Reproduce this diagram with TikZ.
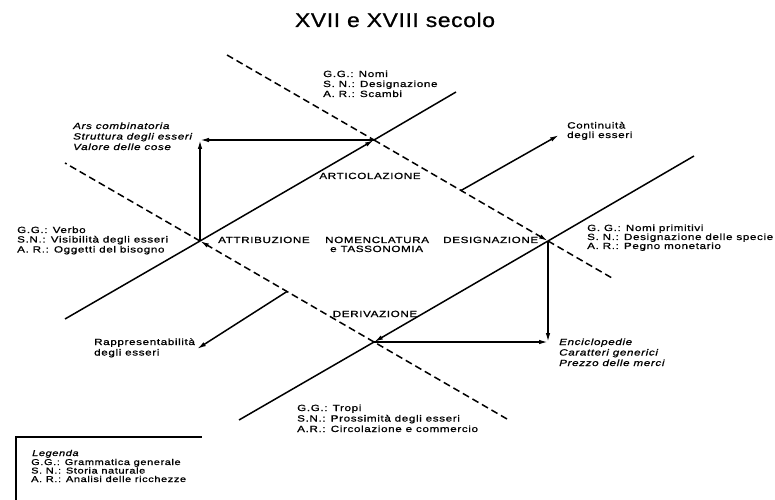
\documentclass[tikz,border=0pt]{standalone}
\usepackage{fontspec}
\setmainfont{Liberation Sans}[FakeStretch=1.3,LetterSpace=7,FakeBold=1]
\newfontfamily\titlefont{Liberation Sans}[FakeStretch=1.15,LetterSpace=3,FakeBold=0.8]
\usetikzlibrary{arrows.meta}
\begin{document}
\begin{tikzpicture}[x=1bp,y=-1bp,
  ln/.style={line width=1.5bp},
  dln/.style={line width=1.5bp,dash pattern=on 7bp off 4bp},
  tip/.style={-{Latex[length=9bp,width=4.5bp]}},
  lab/.style={anchor=base west,inner sep=0pt,font=\fontsize{9}{10}\selectfont},
  ilab/.style={lab,font=\fontsize{9}{10}\selectfont\itshape},
  clab/.style={anchor=base,inner sep=0pt,font=\fontsize{9}{10}\selectfont},
  leg/.style={anchor=base west,inner sep=0pt,font=\fontsize{8.5}{9}\selectfont}]
\useasboundingbox (0,0) rectangle (775,500);
% crossing points
\coordinate (T) at (200,241);
\coordinate (A) at (374,140);
\coordinate (D) at (548,241);
\coordinate (V) at (374,342);
% line ends
\coordinate (L1a) at (65,319);  \coordinate (L1b) at (456,92);
\coordinate (L2a) at (227,55);  \coordinate (L2b) at (612,278);
\coordinate (L3a) at (65,163);  \coordinate (L3b) at (507,419);
\coordinate (L4a) at (239,420); \coordinate (L4b) at (694,156);
% corners
\coordinate (CTL) at (200,140);
\coordinate (CBR) at (548,342);
% side arrows
\coordinate (M1) at (461,190.5); \coordinate (E1) at (559,135);
\coordinate (M2) at (287,291.5); \coordinate (E2) at (197,349);

% L1 solid
\draw[ln] (L1a) -- (T);
\draw[ln,tip] (T) -- (A);
\draw[ln] (A) -- (L1b);
% L2 dashed
\draw[dln] (L2a) -- (A);
\draw[dln,tip] (A) -- (D);
\draw[dln] (D) -- (L2b);
% L4 solid
\draw[ln] (L4b) -- (D);
\draw[ln,tip] (D) -- (V);
\draw[ln] (V) -- (L4a);
% L3 dashed
\draw[dln] (L3b) -- (V);
\draw[dln,tip] (V) -- (T);
\draw[dln] (T) -- (L3a);
% rectangle arrows
\draw[ln,tip] (T) -- (CTL);
\draw[ln,tip] (A) -- (CTL);
\draw[ln,tip] (D) -- (CBR);
\draw[ln,tip] (V) -- (CBR);
% outward arrows
\draw[ln,tip] (M1) -- (E1);
\draw[ln,tip] (M2) -- (E2);

% title
\node[anchor=base,inner sep=0pt,font=\titlefont\fontsize{20}{24}\selectfont] (title) at (395,27) {XVII e XVIII secolo};
% top label
\node[lab] (top1) at (323,77) {G.G.: Nomi};
\node[lab] (top2) at (323,87) {S. N.: Designazione};
\node[lab] (top3) at (323,97) {A. R.: Scambi};
% corner top-left
\node[ilab] (ars1) at (73,129) {Ars combinatoria};
\node[ilab] (ars2) at (73,139.5) {Struttura degli esseri};
\node[ilab] (ars3) at (73,150) {Valore delle cose};
% left label
\node[lab] (lft1) at (17,233) {G.G.: Verbo};
\node[lab] (lft2) at (17,242.5) {S.N.: Visibilità degli esseri};
\node[lab] (lft3) at (17,252.5) {A. R.: Oggetti del bisogno};
% centre words
\node[lab] (attr) at (218,243) {ATTRIBUZIONE};
\node[lab] (nom1) at (325,243) {NOMENCLATURA};
\node[lab] (nom2) at (330,252) {e TASSONOMIA};
\node[lab] (desi) at (443,243) {DESIGNAZIONE};
\node[clab] (arti) at (370,179) {ARTICOLAZIONE};
\node[clab] (deri) at (375,317) {DERIVAZIONE};
% right label
\node[lab] (rgt1) at (587,231) {G. G.: Nomi primitivi};
\node[lab] (rgt2) at (587,240) {S. N.: Designazione delle specie};
\node[lab] (rgt3) at (587,249) {A. R.: Pegno monetario};
% outward labels
\node[lab] (con1) at (567,128.5) {Continuità};
\node[lab] (con2) at (567,138) {degli esseri};
\node[lab] (rap1) at (94,345) {Rappresentabilità};
\node[lab] (rap2) at (94,355.5) {degli esseri};
% corner bottom-right
\node[ilab] (enc1) at (559,345) {Enciclopedie};
\node[ilab] (enc2) at (559,355.5) {Caratteri generici};
\node[ilab] (enc3) at (559,366) {Prezzo delle merci};
% bottom label
\node[lab] (bot1) at (297,411) {G.G.: Tropi};
\node[lab] (bot2) at (297,421.5) {S.N.: Prossimità degli esseri};
\node[lab] (bot3) at (297,432) {A.R.: Circolazione e commercio};
% legend
\draw[line width=1.2bp] (16,500) -- (16,437) -- (202,437);
\node[leg,font=\fontsize{8.5}{9}\selectfont\itshape] (leg0) at (32,456) {Legenda};
\node[leg] (leg1) at (31,465) {G.G.: Grammatica generale};
\node[leg] (leg2) at (31,473.5) {S. N.: Storia naturale};
\node[leg] (leg3) at (31,482) {A. R.: Analisi delle ricchezze};
\end{tikzpicture}
\end{document}
